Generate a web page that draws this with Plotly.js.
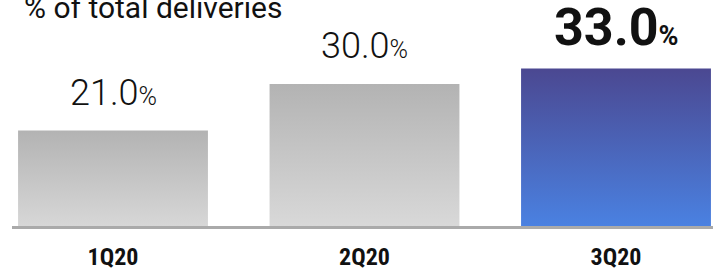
<!DOCTYPE html>
<html>
<head>
<meta charset="utf-8">
<script src="https://cdn.plot.ly/plotly-3.0.1.min.js"></script>
<style>
html,body{margin:0;padding:0;background:#fff;}
#chart{width:717px;height:271px;}
</style>
</head>
<body>
<div id="chart"></div>
<script>
const quarters = ['1Q20', '2Q20', '3Q20'];
const shares = [21.0, 30.0, 33.0];
const highlight = [false, false, true];
const chartTitle = '% of total deliveries';

const gradGray = ['#b3b3b3', '#dcdcdc'];
const gradBlue = ['#4b4891', '#4a86e8'];

const labelAnns = quarters.map((q, i) => {
  const num = shares[i].toFixed(1);
  const big = highlight[i];
  return {
    x: q, y: shares[i], xref: 'x', yref: 'y',
    text: big
      ? '<b>' + num + '</b><span style="font-size:27px">%</span>'
      : num + '<span style="font-size:25px">%</span>',
    showarrow: false, xanchor: 'center', yanchor: 'bottom',
    yshift: big ? 8 : 15,
    font: {family: 'Roboto', size: big ? 52 : 36, color: '#111', weight: big ? 700 : 300}
  };
});

const data = [{
  type: 'bar',
  x: quarters,
  y: shares,
  width: 0.755,
  marker: {color: highlight.map(h => h ? gradBlue[1] : gradGray[0]), line: {width: 0}},
  hoverinfo: 'none'
}];

const layout = {
  width: 717, height: 271,
  margin: {l: 12, r: 4, t: 0, b: 45},
  paper_bgcolor: '#fff', plot_bgcolor: '#fff',
  showlegend: false,
  xaxis: {
    type: 'category',
    range: [-0.4016, 2.3857],
    showline: true, linecolor: '#aaaaaa', linewidth: 3,
    showgrid: false, zeroline: false, ticks: '',
    ticklabelstandoff: 7,
    tickfont: {family: '"Liberation Sans Narrow", "Roboto Condensed", "DejaVu Sans Condensed", sans-serif', size: 24, color: '#111', weight: 700}
  },
  yaxis: {
    range: [2.6, 46.2],
    visible: false, showgrid: false, zeroline: false
  },
  annotations: labelAnns.concat([{
    xref: 'paper', yref: 'paper', x: 0, y: 1,
    xanchor: 'left', yanchor: 'bottom', yshift: -27, xshift: 10,
    text: chartTitle, showarrow: false,
    font: {family: 'Roboto', size: 30, color: '#111', weight: 400}
  }])
};

Plotly.newPlot('chart', data, layout, {staticPlot: true}).then(gd => {
  const svg = gd.querySelector('svg.main-svg');
  const ns = 'http://www.w3.org/2000/svg';
  let defs = svg.querySelector('defs');
  if (!defs) { defs = document.createElementNS(ns, 'defs'); svg.insertBefore(defs, svg.firstChild); }
  function mk(id, cols) {
    const g = document.createElementNS(ns, 'linearGradient');
    g.setAttribute('id', id);
    g.setAttribute('x1', '0'); g.setAttribute('y1', '0');
    g.setAttribute('x2', '0'); g.setAttribute('y2', '1');
    cols.forEach((c, k) => {
      const s = document.createElementNS(ns, 'stop');
      s.setAttribute('offset', k === 0 ? '0' : '1');
      s.setAttribute('stop-color', c);
      g.appendChild(s);
    });
    defs.appendChild(g);
  }
  mk('gGray', gradGray);
  mk('gBlue', gradBlue);
  const paths = gd.querySelectorAll('.trace.bars .point path');
  paths.forEach((p, i) => {
    p.style.fill = highlight[i] ? 'url(#gBlue)' : 'url(#gGray)';
  });
});
</script>
</body>
</html>
